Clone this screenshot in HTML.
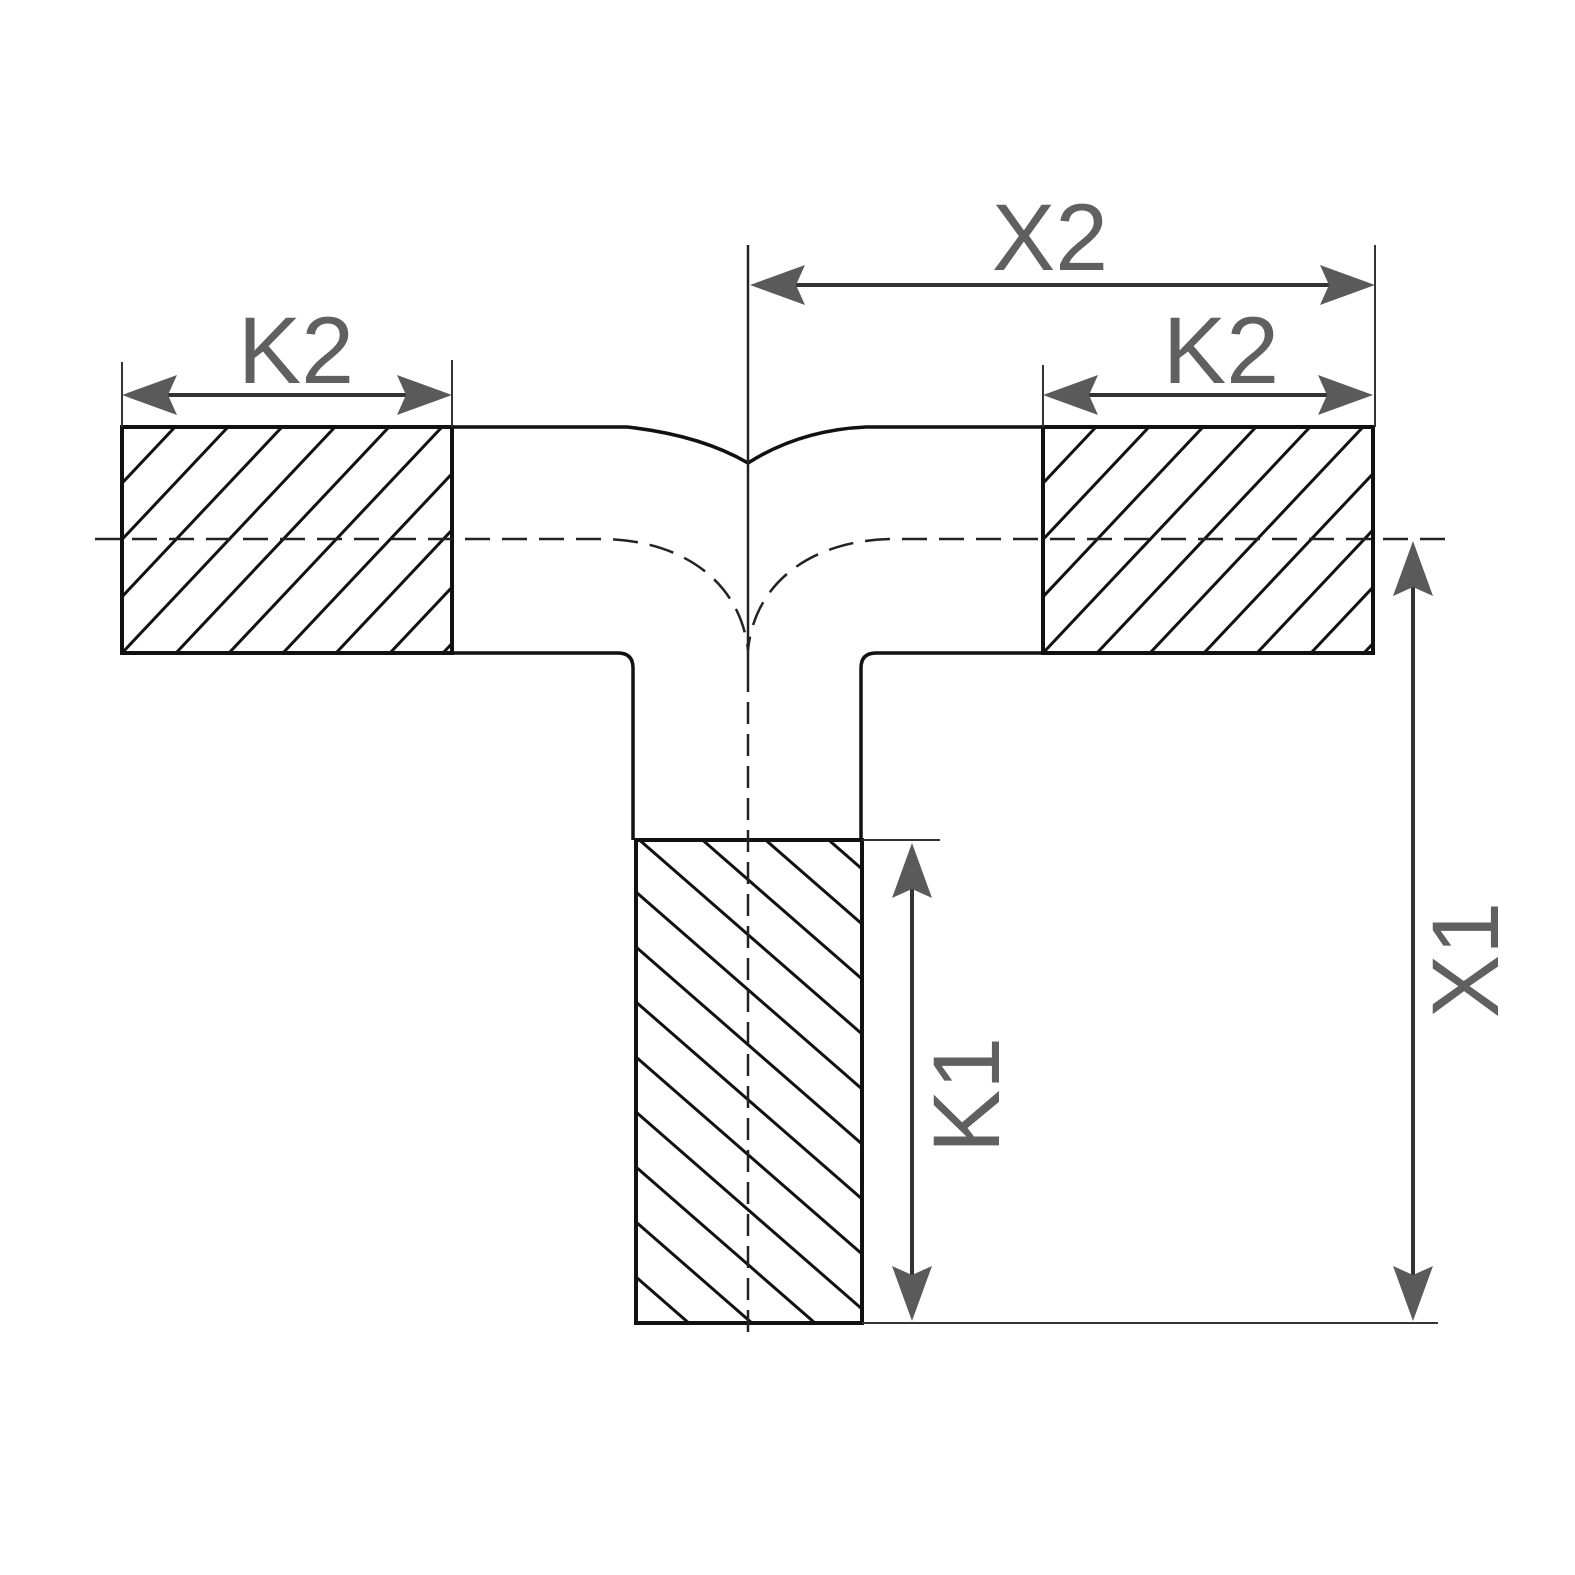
<!DOCTYPE html>
<html><head><meta charset="utf-8"><style>
html,body{margin:0;padding:0;background:#fff;}
svg{display:block;}
text{font-family:"Liberation Sans",sans-serif;fill:#606060;font-size:95px;}
</style></head><body>
<svg width="1575" height="1575" viewBox="0 0 1575 1575" xmlns="http://www.w3.org/2000/svg">
<defs>
<path id="ah" d="M0,0 L-55,-20 L-46,0 L-55,20 Z" fill="#5a5a5a"/>
<clipPath id="cl"><rect x="122" y="427" width="330" height="226"/></clipPath>
<clipPath id="cr"><rect x="1043" y="427" width="330" height="226"/></clipPath>
<clipPath id="cb"><rect x="636" y="840" width="226" height="483"/></clipPath>
</defs>

<g stroke="#111" stroke-width="3" clip-path="url(#cl)">
<path d="M-146,427 l-213,226 M-92,427 l-213,226 M-39,427 l-213,226 M14,427 l-213,226 M68,427 l-213,226 M121,427 l-213,226 M175,427 l-213,226 M228,427 l-213,226 M282,427 l-213,226 M335,427 l-213,226 M389,427 l-213,226 M442,427 l-213,226 M496,427 l-213,226 M549,427 l-213,226 M603,427 l-213,226 M656,427 l-213,226"/>
</g>
<g stroke="#111" stroke-width="3" clip-path="url(#cr)">
<path d="M935,427 l-213,226 M989,427 l-213,226 M1042,427 l-213,226 M1096,427 l-213,226 M1149,427 l-213,226 M1203,427 l-213,226 M1256,427 l-213,226 M1310,427 l-213,226 M1363,427 l-213,226 M1417,427 l-213,226 M1470,427 l-213,226 M1524,427 l-213,226 M1577,427 l-213,226"/>
</g>
<g stroke="#111" stroke-width="3" clip-path="url(#cb)">
<path d="M636,617 l226,197 M636,672 l226,197 M636,727 l226,197 M636,782 l226,197 M636,837 l226,197 M636,892 l226,197 M636,947 l226,197 M636,1002 l226,197 M636,1057 l226,197 M636,1112 l226,197 M636,1167 l226,197 M636,1222 l226,197 M636,1277 l226,197 M636,1332 l226,197"/>
</g>

<g fill="none" stroke="#111" stroke-width="4">
<rect x="122" y="427" width="330" height="226"/>
<rect x="1043" y="427" width="330" height="226"/>
<rect x="636" y="840" width="226" height="483"/>
</g>
<g fill="none" stroke="#111" stroke-width="3.5">
<path d="M452,427 H627 Q700,435 748,463 Q800,430 866,427 H1043"/>
<path d="M452,653 H618 Q633,653 633,668 V840"/>
<path d="M1043,653 H876 Q861,653 861,668 V840"/>
</g>

<g fill="none" stroke="#222" stroke-width="2.5">
<path d="M748,245 V670"/>
<path d="M748,670 V1340" stroke-dasharray="22,10"/>
<path d="M95,539 H600 C680,539 740,580 748,650" stroke-dasharray="25,12"/>
<path d="M1445,539 H895 C815,539 755,580 748,650" stroke-dasharray="25,12"/>
</g>

<g stroke="#333" stroke-width="2" fill="none">
<path d="M122,362 V427 M452,360 V427 M1043,365 V427 M1375,245 V427"/>
<path d="M862,840 H940 M862,1323 H1438"/>
</g>
<g stroke="#333" stroke-width="4" fill="none">
<path d="M150,395 H425 M1070,395 H1345 M778,285 H1345"/>
<path d="M912,870 V1295 M1413,568 V1295"/>
</g>
<use href="#ah" transform="translate(122,395) rotate(180)"/>
<use href="#ah" transform="translate(452,395)"/>
<use href="#ah" transform="translate(1043,395) rotate(180)"/>
<use href="#ah" transform="translate(1373,395)"/>
<use href="#ah" transform="translate(750,285) rotate(180)"/>
<use href="#ah" transform="translate(1375,285)"/>
<use href="#ah" transform="translate(912,843) rotate(-90)"/>
<use href="#ah" transform="translate(912,1321) rotate(90)"/>
<use href="#ah" transform="translate(1413,541) rotate(-90)"/>
<use href="#ah" transform="translate(1413,1321) rotate(90)"/>

<text x="1050" y="270" text-anchor="middle">X2</text>
<text x="296" y="383" text-anchor="middle">K2</text>
<text x="1221" y="383" text-anchor="middle">K2</text>
<text transform="translate(999,1095) rotate(-90)" text-anchor="middle">K1</text>
<text transform="translate(1498,960) rotate(-90)" text-anchor="middle">X1</text>
</svg>
</body></html>
